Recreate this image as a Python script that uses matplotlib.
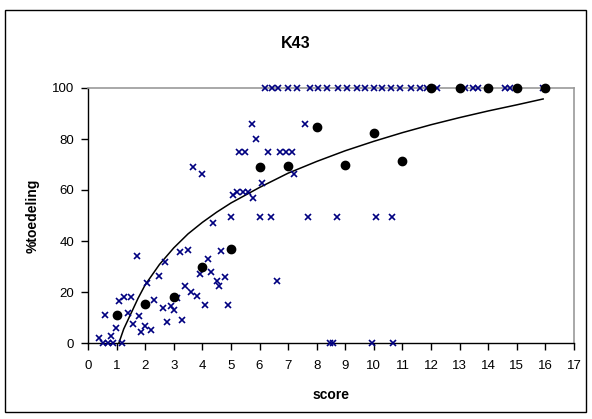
import matplotlib
matplotlib.use("Agg")
import matplotlib.pyplot as plt
from matplotlib.patches import Rectangle

plt.rcParams['font.family'] = ['Liberation Sans', 'DejaVu Sans']

# individual observations (crosses)
obs_x = [0.38, 0.51, 0.69, 0.89, 0.80, 0.98, 1.20, 8.46, 8.58, 9.92, 10.68,
         0.59, 1.09, 1.27, 1.50, 1.41, 1.59, 1.80, 1.87, 2.01, 2.19, 2.31,
         2.08, 1.70, 2.48, 2.69, 2.61, 2.78, 2.92, 3.02, 3.10, 3.22, 3.30,
         3.39, 3.51, 3.60, 3.82, 3.92, 4.11, 4.20, 4.30, 4.50, 4.59, 4.80,
         4.66, 4.88, 4.38, 4.99, 5.07, 5.20, 5.43, 5.60, 5.78, 6.01, 6.39,
         6.60, 7.68, 8.72, 10.09, 10.62, 3.68, 3.99, 6.10, 5.28, 5.50, 6.30,
         6.71, 6.92, 7.12, 7.20, 5.72, 5.87, 7.59,
         6.20, 6.45, 6.65, 7.00, 7.30, 7.75, 8.05, 8.35, 8.75, 9.05, 9.40,
         9.70, 10.00, 10.30, 10.60, 10.90, 11.30, 11.60, 11.85, 12.20, 13.20,
         13.45, 13.65, 14.60, 14.75, 15.90]
obs_y = [1.8, 0, 0, 0, 2.7, 6.0, 0, 0, 0, 0, 0,
         11.0, 16.6, 18.2, 18.2, 11.6, 7.3, 10.6, 4.2, 6.8, 5.1, 16.8,
         23.4, 34.1, 26.3, 31.8, 13.9, 8.1, 14.4, 12.8, 17.8, 35.5, 9.0,
         22.5, 36.5, 20.1, 18.6, 26.9, 14.8, 33.0, 27.9, 24.4, 22.5, 25.8,
         36.0, 14.8, 47.2, 49.5, 58.2, 59.4, 59.4, 59.4, 56.7, 49.5, 49.5,
         24.4, 49.5, 49.5, 49.5, 49.5, 68.9, 66.4, 62.6, 75.0, 75.0, 75.0,
         75.0, 75.0, 75.0, 66.2, 85.7, 79.9, 85.7,
         100, 100, 100, 100, 100, 100, 100, 100, 100, 100, 100,
         100, 100, 100, 100, 100, 100, 100, 100, 100, 100,
         100, 100, 100, 100, 100]

# mean per score (dots)
mean_x = [1, 2, 3, 4, 5, 6, 7, 8, 9, 10, 11, 12, 13, 14, 15, 16]
mean_y = [11.0, 15.3, 18.0, 29.8, 36.9, 69.0, 69.4, 84.7, 69.8, 82.4, 71.4,
          100, 100, 100, 100, 100]

# trend line
trend_x = [1.08, 1.25, 1.5, 1.75, 2.0, 2.5, 3.0, 3.5, 4.0, 4.5, 5.0, 6.0,
           7.0, 8.0, 9.0, 10.0, 11.0, 12.0, 13.0, 14.0, 15.0, 15.92]
trend_y = [0.0, 5.5, 11.5, 17.5, 22.8, 30.8, 37.3, 42.8, 47.3, 51.3, 54.9,
           61.0, 66.6, 71.2, 75.4, 79.1, 82.5, 85.6, 88.4, 91.0, 93.4, 95.7]

x_ticks = list(range(0, 18))
y_ticks = [0, 20, 40, 60, 80, 100]

W, H = 592, 419
fig = plt.figure(figsize=(W / 100, H / 100), dpi=100)
fig.patch.set_facecolor('white')

# outer chart frame
fig.patches.append(Rectangle((5 / W, 1 - 412 / H), 581 / W, 402 / H,
                             transform=fig.transFigure, fill=False,
                             edgecolor='black', linewidth=1.0))

L, R, T, B = 88, 574, 88, 343
ax = fig.add_axes([L / W, 1 - B / H, (R - L) / W, (B - T) / H])
ax.set_xlim(0, 17)
ax.set_ylim(0, 100)

ax.plot(trend_x, trend_y, color='black', linewidth=1.1, zorder=2)
ax.plot(obs_x, obs_y, linestyle='none', marker='x', markersize=4.4,
        markeredgewidth=1.2, color='#000080', clip_on=False, zorder=3)
ax.plot(mean_x, mean_y, linestyle='none', marker='o', markersize=6,
        color='black', clip_on=False, zorder=4)

for side in ('top', 'right'):
    ax.spines[side].set_color('#999999')
    ax.spines[side].set_linewidth(1.2)
for side in ('left', 'bottom'):
    ax.spines[side].set_color('black')
    ax.spines[side].set_linewidth(1.0)

ax.set_xticks(x_ticks)
ax.set_yticks(y_ticks)
ax.tick_params(direction='out', length=5, width=1, labelsize=9.5,
               colors='black')
ax.tick_params(axis='x', pad=7)
ax.tick_params(axis='y', pad=5)

ax.set_xlabel('score', fontsize=10, fontweight='bold', labelpad=12)
ax.set_ylabel('%toedeling', fontsize=10, fontweight='bold', labelpad=9)
fig.text(296 / W, 1 - 43 / H, 'K43', ha='center', va='center',
         fontsize=11.5, fontweight='bold')

fig.savefig('out.png', dpi=100, facecolor='white')
